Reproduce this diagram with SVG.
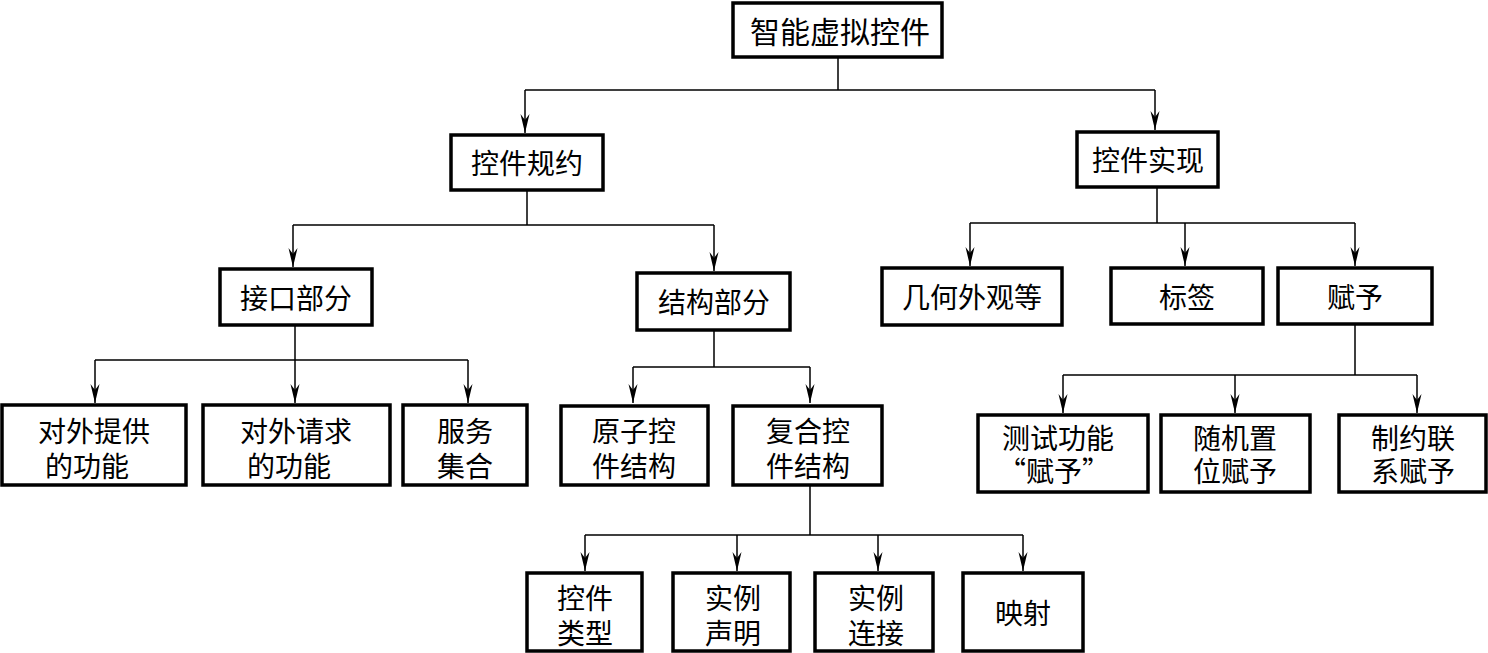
<svg xmlns="http://www.w3.org/2000/svg" width="1488" height="653" viewBox="0 0 1488 653">
<style>
.box{fill:#fff;stroke:#000;stroke-width:3.5}
.t{font-family:"Noto Sans CJK SC","Noto Sans CJK JP",sans-serif;font-size:28px;fill:#000;text-anchor:middle;dominant-baseline:central}
.c{fill:none;stroke:#000;stroke-width:1.5}
</style>
<defs>
<marker id="ah" markerUnits="userSpaceOnUse" viewBox="-20 -6 22 12" refX="0" refY="0" markerWidth="22" markerHeight="12" orient="auto">
<path d="M0,0 L-19,-4.5 L-13,0 L-19,4.5 z" fill="#000"/>
</marker>
</defs>
<rect width="1488" height="653" fill="#fff"/>
<g id="connectors">
<path class="c" d="M838,57 V90 M525,90 H1155"/>
<path class="c" d="M525,90 V133" marker-end="url(#ah)"/>
<path class="c" d="M1155,90 V130" marker-end="url(#ah)"/>
<path class="c" d="M527,190 V225 M293,225 H714"/>
<path class="c" d="M293,225 V267" marker-end="url(#ah)"/>
<path class="c" d="M714,225 V271" marker-end="url(#ah)"/>
<path class="c" d="M1157,187 V223 M970,223 H1355"/>
<path class="c" d="M970,223 V266" marker-end="url(#ah)"/>
<path class="c" d="M1185,223 V266" marker-end="url(#ah)"/>
<path class="c" d="M1355,223 V266" marker-end="url(#ah)"/>
<path class="c" d="M295,325 V360 M95,360 H468"/>
<path class="c" d="M95,360 V403" marker-end="url(#ah)"/>
<path class="c" d="M295,360 V403" marker-end="url(#ah)"/>
<path class="c" d="M468,360 V403" marker-end="url(#ah)"/>
<path class="c" d="M714,330 V367 M633,367 H810"/>
<path class="c" d="M633,367 V403" marker-end="url(#ah)"/>
<path class="c" d="M810,367 V403" marker-end="url(#ah)"/>
<path class="c" d="M1355,324 V375 M1063,375 H1417"/>
<path class="c" d="M1063,375 V413" marker-end="url(#ah)"/>
<path class="c" d="M1235,375 V413" marker-end="url(#ah)"/>
<path class="c" d="M1417,375 V413" marker-end="url(#ah)"/>
<path class="c" d="M810,485 V535 M585,535 H1023"/>
<path class="c" d="M585,535 V571" marker-end="url(#ah)"/>
<path class="c" d="M737,535 V571" marker-end="url(#ah)"/>
<path class="c" d="M878,535 V571" marker-end="url(#ah)"/>
<path class="c" d="M1023,535 V571" marker-end="url(#ah)"/>
</g>
<g id="root"><rect class="box" x="733" y="3" width="209" height="54"/><text class="t" x="840" y="30" style="font-size:30px">智能虚拟控件</text></g>
<g id="spec"><rect class="box" x="451" y="135" width="152" height="55"/><text class="t" x="527" y="162">控件规约</text></g>
<g id="impl"><rect class="box" x="1077" y="132" width="141" height="55"/><text class="t" x="1148" y="159">控件实现</text></g>
<g id="iface"><rect class="box" x="220" y="269" width="152" height="56"/><text class="t" x="296" y="297">接口部分</text></g>
<g id="struct"><rect class="box" x="637" y="273" width="153" height="57"/><text class="t" x="714" y="301">结构部分</text></g>
<g id="geo"><rect class="box" x="882" y="268" width="180" height="57"/><text class="t" x="972" y="296">几何外观等</text></g>
<g id="label"><rect class="box" x="1111" y="268" width="152" height="56"/><text class="t" x="1187" y="296">标签</text></g>
<g id="assign"><rect class="box" x="1278" y="268" width="154" height="56"/><text class="t" x="1355" y="296">赋予</text></g>
<g id="provide"><rect class="box" x="2" y="405" width="184" height="80"/><text class="t"><tspan x="94" y="430">对外提供</tspan><tspan x="87" y="465">的功能</tspan></text></g>
<g id="request"><rect class="box" x="203" y="405" width="187" height="80"/><text class="t"><tspan x="296" y="430">对外请求</tspan><tspan x="289" y="465">的功能</tspan></text></g>
<g id="service"><rect class="box" x="403" y="405" width="124" height="80"/><text class="t"><tspan x="465" y="430">服务</tspan><tspan x="465" y="465">集合</tspan></text></g>
<g id="atomic"><rect class="box" x="561" y="406" width="147" height="79"/><text class="t"><tspan x="634" y="430">原子控</tspan><tspan x="634" y="465">件结构</tspan></text></g>
<g id="composite"><rect class="box" x="733" y="406" width="149" height="79"/><text class="t"><tspan x="808" y="430">复合控</tspan><tspan x="808" y="465">件结构</tspan></text></g>
<g id="test"><rect class="box" x="978" y="415" width="170" height="77"/><text class="t"><tspan x="1058" y="437">测试功能</tspan><tspan x="1054" y="470">“赋予”</tspan></text></g>
<g id="random"><rect class="box" x="1161" y="415" width="149" height="77"/><text class="t"><tspan x="1235" y="437">随机置</tspan><tspan x="1235" y="470">位赋予</tspan></text></g>
<g id="constraint"><rect class="box" x="1339" y="415" width="147" height="77"/><text class="t"><tspan x="1413" y="437">制约联</tspan><tspan x="1413" y="470">系赋予</tspan></text></g>
<g id="ctype"><rect class="box" x="527" y="573" width="115" height="78"/><text class="t"><tspan x="585" y="597">控件</tspan><tspan x="585" y="632">类型</tspan></text></g>
<g id="decl"><rect class="box" x="673" y="573" width="117" height="78"/><text class="t"><tspan x="733" y="597">实例</tspan><tspan x="733" y="632">声明</tspan></text></g>
<g id="conn"><rect class="box" x="815" y="573" width="118" height="78"/><text class="t"><tspan x="876" y="597">实例</tspan><tspan x="876" y="632">连接</tspan></text></g>
<g id="map"><rect class="box" x="963" y="573" width="120" height="78"/><text class="t" x="1023" y="612">映射</text></g>
</svg>
